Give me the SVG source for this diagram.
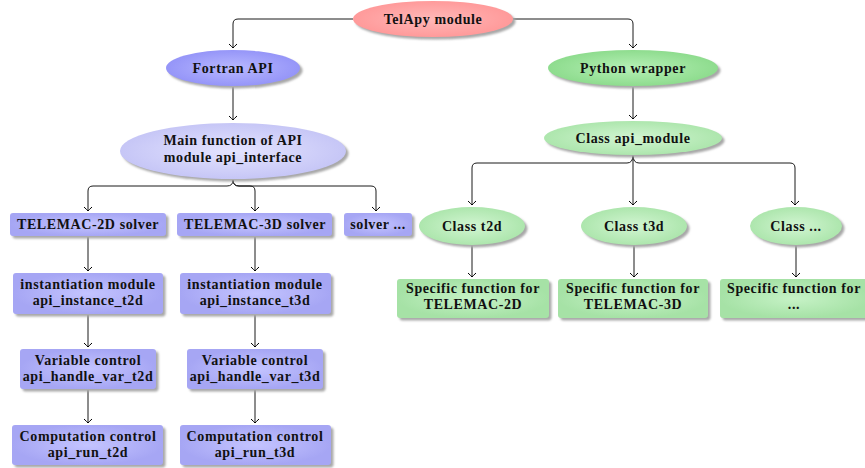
<svg xmlns="http://www.w3.org/2000/svg" width="865" height="468" viewBox="0 0 865 468">
<defs>
<radialGradient id="gRed"><stop offset="0" stop-color="#ffb8b8"/><stop offset="1" stop-color="#ff9a9a"/></radialGradient>
<radialGradient id="gBlue"><stop offset="0" stop-color="#b8b8ff"/><stop offset="1" stop-color="#9595f8"/></radialGradient>
<radialGradient id="gBlueL"><stop offset="0" stop-color="#e4e4ff"/><stop offset="1" stop-color="#c6c6f6"/></radialGradient>
<radialGradient id="gBox"><stop offset="0" stop-color="#c4c4ff"/><stop offset="1" stop-color="#a6a6f4"/></radialGradient>
<radialGradient id="gGreen"><stop offset="0" stop-color="#b6f0b6"/><stop offset="1" stop-color="#8edc8e"/></radialGradient>
<radialGradient id="gGreenL"><stop offset="0" stop-color="#d2f5d2"/><stop offset="1" stop-color="#ade6ad"/></radialGradient>
<radialGradient id="gGBox"><stop offset="0" stop-color="#c6f2c6"/><stop offset="1" stop-color="#a6e2a6"/></radialGradient>
<filter id="blur" x="-10%" y="-20%" width="120%" height="140%"><feGaussianBlur stdDeviation="0.8"/></filter>
<marker id="arr" viewBox="-5 -5 6 10" markerWidth="6" markerHeight="10" refX="0" refY="0" orient="auto" markerUnits="userSpaceOnUse">
<path d="M-4,-4 Q-1,-0.8 0,0 Q-1,0.8 -4,4" fill="none" stroke="#000" stroke-width="1"/>
</marker>
</defs>
<style>
.sh{fill:#a8a8a8;filter:url(#blur)}
.t{font-family:"Liberation Serif","Times New Roman",serif;font-weight:bold;font-size:14px;letter-spacing:0.6px;text-anchor:middle;fill:#111}
.c{fill:none;stroke:#1a1a1a;stroke-width:1;marker-end:url(#arr)}
</style>
<rect width="865" height="468" fill="#fff"/>

<g id="connectors">
<path class="c" d="M353,19 H238 Q233,19 233,24 V48"/>
<path class="c" d="M513,19 H628 Q633,19 633,24 V48"/>
<path class="c" d="M233,87 V120"/>
<path class="c" d="M633,87 V119"/>
<path class="c" d="M233,180 Q233,186 227,186 H93 Q88,186 88,191 V211"/>
<path class="c" d="M233,180 Q233,186 239,186 H250 Q255,186 255,191 V211"/>
<path class="c" d="M233,180 Q233,186 239,186 H371 Q376,186 376,191 V211"/>
<path class="c" d="M88,237 V271"/>
<path class="c" d="M255,237 V271"/>
<path class="c" d="M88,315 V347"/>
<path class="c" d="M255,315 V347"/>
<path class="c" d="M88,390 V423"/>
<path class="c" d="M255,390 V423"/>
<path class="c" d="M633,155 Q633,163 627,163 H477 Q472,163 472,168 V205"/>
<path class="c" d="M633,155 V205"/>
<path class="c" d="M633,155 Q633,163 639,163 H790 Q795,163 795,168 V205"/>
<path class="c" d="M472,245 V277"/>
<path class="c" d="M634,245 V277"/>
<path class="c" d="M796,245 V277"/>
</g>

<g id="telapy">
<ellipse class="sh" cx="435.5" cy="21.5" rx="80" ry="18"/>
<ellipse cx="433" cy="19" rx="80" ry="18" fill="url(#gRed)"/>
<text class="t" x="433" y="24">TelApy module</text>
</g>

<g id="fortran">
<ellipse class="sh" cx="235.5" cy="70.5" rx="67" ry="18"/>
<ellipse cx="233" cy="68" rx="67" ry="18" fill="url(#gBlue)"/>
<text class="t" x="233" y="73">Fortran API</text>
</g>

<g id="python">
<ellipse class="sh" cx="635.5" cy="70.5" rx="85" ry="18"/>
<ellipse cx="633" cy="68" rx="85" ry="18" fill="url(#gGreen)"/>
<text class="t" x="633" y="73">Python wrapper</text>
</g>

<g id="mainfunc">
<ellipse class="sh" cx="235.5" cy="153.5" rx="113" ry="28"/>
<ellipse cx="233" cy="151" rx="113" ry="28" fill="url(#gBlueL)"/>
<text class="t" x="233" y="145">Main function of API</text>
<text class="t" x="233" y="162">module api_interface</text>
</g>

<g id="apimodule">
<ellipse class="sh" cx="635.5" cy="140.5" rx="89" ry="17"/>
<ellipse cx="633" cy="138" rx="89" ry="17" fill="url(#gGreenL)"/>
<text class="t" x="633" y="143">Class api_module</text>
</g>

<g id="t2dsolver">
<rect class="sh" x="12.5" y="215.5" width="156" height="23" rx="3"/>
<rect x="10" y="213" width="156" height="23" rx="3" fill="url(#gBox)"/>
<text class="t" x="88" y="229">TELEMAC-2D solver</text>
</g>
<g id="t3dsolver">
<rect class="sh" x="179.5" y="215.5" width="155" height="23" rx="3"/>
<rect x="177" y="213" width="155" height="23" rx="3" fill="url(#gBox)"/>
<text class="t" x="255" y="229">TELEMAC-3D solver</text>
</g>
<g id="othersolver">
<rect class="sh" x="346.5" y="215.5" width="68" height="23" rx="3"/>
<rect x="344" y="213" width="68" height="23" rx="3" fill="url(#gBox)"/>
<text class="t" x="378" y="229">solver ...</text>
</g>

<g id="inst2d">
<rect class="sh" x="15.5" y="275.5" width="150" height="41" rx="3"/>
<rect x="13" y="273" width="150" height="41" rx="3" fill="url(#gBox)"/>
<text class="t" x="88" y="289">instantiation module</text>
<text class="t" x="88" y="305">api_instance_t2d</text>
</g>
<g id="inst3d">
<rect class="sh" x="182.5" y="275.5" width="151" height="41" rx="3"/>
<rect x="180" y="273" width="151" height="41" rx="3" fill="url(#gBox)"/>
<text class="t" x="255" y="289">instantiation module</text>
<text class="t" x="255" y="305">api_instance_t3d</text>
</g>

<g id="var2d">
<rect class="sh" x="22.5" y="351.5" width="136" height="40" rx="3"/>
<rect x="20" y="349" width="136" height="40" rx="3" fill="url(#gBox)"/>
<text class="t" x="88" y="365">Variable control</text>
<text class="t" x="88" y="381">api_handle_var_t2d</text>
</g>
<g id="var3d">
<rect class="sh" x="189.5" y="351.5" width="136" height="40" rx="3"/>
<rect x="187" y="349" width="136" height="40" rx="3" fill="url(#gBox)"/>
<text class="t" x="255" y="365">Variable control</text>
<text class="t" x="255" y="381">api_handle_var_t3d</text>
</g>

<g id="run2d">
<rect class="sh" x="14.5" y="427.5" width="151" height="40" rx="3"/>
<rect x="12" y="425" width="151" height="40" rx="3" fill="url(#gBox)"/>
<text class="t" x="88" y="441">Computation control</text>
<text class="t" x="88" y="457">api_run_t2d</text>
</g>
<g id="run3d">
<rect class="sh" x="182.5" y="427.5" width="151" height="40" rx="3"/>
<rect x="180" y="425" width="151" height="40" rx="3" fill="url(#gBox)"/>
<text class="t" x="255" y="441">Computation control</text>
<text class="t" x="255" y="457">api_run_t3d</text>
</g>

<g id="classt2d">
<ellipse class="sh" cx="474.5" cy="228.5" rx="53" ry="19"/>
<ellipse cx="472" cy="226" rx="53" ry="19" fill="url(#gGreenL)"/>
<text class="t" x="472" y="231">Class t2d</text>
</g>
<g id="classt3d">
<ellipse class="sh" cx="636.5" cy="228.5" rx="53" ry="19"/>
<ellipse cx="634" cy="226" rx="53" ry="19" fill="url(#gGreenL)"/>
<text class="t" x="634" y="231">Class t3d</text>
</g>
<g id="classother">
<ellipse class="sh" cx="798.5" cy="228.5" rx="46" ry="19"/>
<ellipse cx="796" cy="226" rx="46" ry="19" fill="url(#gGreenL)"/>
<text class="t" x="796" y="231">Class ...</text>
</g>

<g id="spec2d">
<rect class="sh" x="399.5" y="281.5" width="152" height="39" rx="3"/>
<rect x="397" y="279" width="152" height="39" rx="3" fill="url(#gGBox)"/>
<text class="t" x="473" y="293">Specific function for</text>
<text class="t" x="473" y="309">TELEMAC-2D</text>
</g>
<g id="spec3d">
<rect class="sh" x="560.5" y="281.5" width="150" height="39" rx="3"/>
<rect x="558" y="279" width="150" height="39" rx="3" fill="url(#gGBox)"/>
<text class="t" x="633" y="293">Specific function for</text>
<text class="t" x="633" y="309">TELEMAC-3D</text>
</g>
<g id="specother">
<rect class="sh" x="722.5" y="281.5" width="150" height="39" rx="3"/>
<rect x="720" y="279" width="150" height="39" rx="3" fill="url(#gGBox)"/>
<text class="t" x="794" y="293">Specific function for</text>
<text class="t" x="794" y="309">...</text>
</g>
</svg>
